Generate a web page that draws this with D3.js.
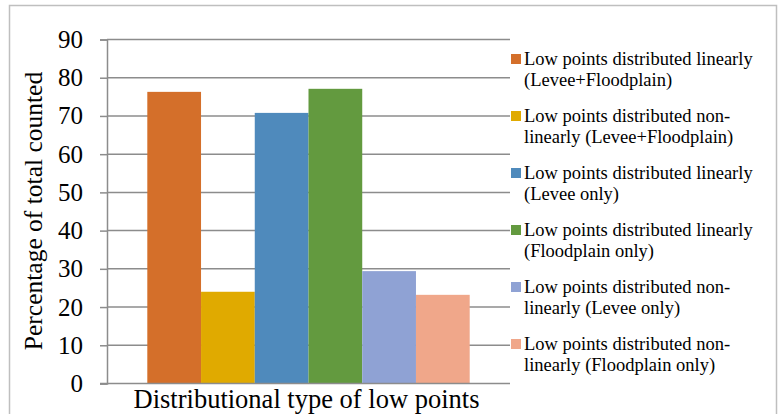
<!DOCTYPE html>
<html>
<head>
<meta charset="utf-8">
<script src="https://cdn.jsdelivr.net/npm/d3@7"></script>
<style>
  html, body { margin: 0; padding: 0; background: #fff; }
  svg { display: block; }
</style>
</head>
<body>
<svg id="chart" width="782" height="414"></svg>
<script>
const categories = ["Distributional type of low points"];
const seriesNames = [
  "Low points distributed linearly (Levee+Floodplain)",
  "Low points distributed non-linearly (Levee+Floodplain)",
  "Low points distributed linearly (Levee only)",
  "Low points distributed linearly (Floodplain only)",
  "Low points distributed non-linearly (Levee only)",
  "Low points distributed non-linearly (Floodplain only)"
];
const legendLines = [
  ["Low points distributed linearly", "(Levee+Floodplain)"],
  ["Low points distributed non-", "linearly (Levee+Floodplain)"],
  ["Low points distributed linearly", "(Levee only)"],
  ["Low points distributed linearly", "(Floodplain only)"],
  ["Low points distributed non-", "linearly (Levee only)"],
  ["Low points distributed non-", "linearly (Floodplain only)"]
];
const seriesValues = [76.3, 24.0, 70.8, 77.1, 29.4, 23.2];
const seriesColors = ["#D46F2A", "#E0AA00", "#4F8ABC", "#639A3F", "#8FA2D4", "#F0A78A"];
const yTicks = [0, 10, 20, 30, 40, 50, 60, 70, 80, 90];
const yTitle = "Percentage of total counted";

const FONT = "'Liberation Serif', 'Times New Roman', Times, serif";
const svg = d3.select("#chart");
const plot = { left: 107, right: 510, top: 39.5, bottom: 383.5 };

// outer frame
svg.append("rect")
  .attr("x", 9.5).attr("y", 5.5)
  .attr("width", 767).attr("height", 420)
  .attr("fill", "#fff").attr("stroke", "#BFBFBF").attr("stroke-width", 1.5);

const y = d3.scaleLinear().domain([0, 90]).range([plot.bottom, plot.top]);
const x0 = d3.scaleBand().domain(categories).range([plot.left, plot.right]).padding(0);
const x1 = d3.scaleBand().domain(seriesNames).range([0, x0.bandwidth()])
  .paddingInner(0).paddingOuter(0.75);

// gridlines
svg.append("g").selectAll("line").data(yTicks.filter(t => t > 0)).join("line")
  .attr("x1", plot.left).attr("x2", plot.right)
  .attr("y1", d => y(d)).attr("y2", d => y(d))
  .attr("stroke", "#8C8C8C").attr("stroke-width", 1.5);

// bars
const g = svg.append("g").selectAll("g").data(categories).join("g")
  .attr("transform", d => `translate(${x0(d)},0)`);
g.selectAll("rect").data(seriesNames.map((n, i) => ({ n, v: seriesValues[i], c: seriesColors[i] })))
  .join("rect")
  .attr("x", d => x1(d.n)).attr("width", x1.bandwidth())
  .attr("y", d => y(d.v)).attr("height", d => y(0) - y(d.v))
  .attr("fill", d => d.c);

// y axis
const yAxis = svg.append("g").attr("transform", `translate(${plot.left},0)`)
  .call(d3.axisLeft(y).tickValues(yTicks).tickSize(7).tickPadding(17).tickFormat(d3.format("d")));
yAxis.attr("font-family", null);
yAxis.select(".domain").attr("stroke", "#8C8C8C").attr("stroke-width", 1.5);
yAxis.selectAll(".tick line").attr("stroke", "#8C8C8C").attr("stroke-width", 1.5);
yAxis.selectAll(".tick text").style("font-family", FONT).style("font-size", "25px").attr("fill", "#000");

// x axis
const xAxis = svg.append("g").attr("transform", `translate(0,${plot.bottom})`)
  .call(d3.axisBottom(x0).tickSize(0).tickPadding(6));
xAxis.attr("font-family", null);
xAxis.select(".domain").attr("stroke", "#8C8C8C").attr("stroke-width", 1.5)
  .attr("d", `M${plot.left - 7},0H${plot.right}`);
xAxis.selectAll(".tick text").style("font-family", FONT).style("font-size", "26.5px").attr("fill", "#000")
  .attr("y", 24).attr("dy", 0).attr("dx", -2);

// y title
svg.append("text")
  .attr("transform", `translate(42,211) rotate(-90)`)
  .attr("text-anchor", "middle")
  .style("font-family", FONT).style("font-size", "25.5px")
  .text(yTitle);

// legend
const leg = svg.append("g").selectAll("g").data(seriesNames).join("g")
  .attr("transform", (d, i) => `translate(511,${54 + i * 57})`);
leg.append("rect").attr("width", 10).attr("height", 10).attr("fill", (d, i) => seriesColors[i]);
leg.append("text").attr("x", 13).attr("y", 11)
  .style("font-family", FONT).style("font-size", "18.5px")
  .selectAll("tspan").data((d, i) => legendLines[i]).join("tspan")
  .attr("x", 13).attr("dy", (d, j) => j === 0 ? 0 : 21).text(d => d);
</script>
</body>
</html>
